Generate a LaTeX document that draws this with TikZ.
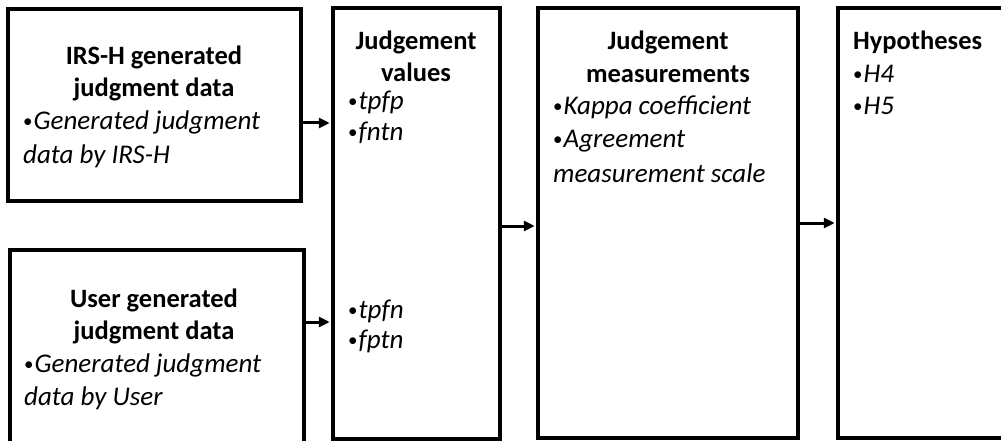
\documentclass[tikz,border=0pt]{standalone}
\usepackage{fontspec}
\setmainfont{Carlito}
\usetikzlibrary{arrows.meta}
% small upright bullet used in the item lists
\newcommand{\itembul}{{\upshape\fontsize{19}{19}\selectfont\raisebox{2pt}{•}}\kern1pt}
\begin{document}
\begin{tikzpicture}[x=1pt,y=-1pt,
  box/.style={draw=black, line width=3.5pt, fill=white, inner sep=0pt},
  ttl/.style={anchor=base, inner sep=0pt, font=\fontsize{26.5}{32}\selectfont\bfseries},
  ttlw/.style={anchor=base west, inner sep=0pt, font=\fontsize{26.5}{32}\selectfont\bfseries},
  itm/.style={anchor=base west, inner sep=0pt, font=\fontsize{27}{32}\selectfont\itshape},
  flow/.style={line width=3pt, shorten >=1.5pt, -{Triangle[length=11pt,width=10pt]}}]
\useasboundingbox (0,0) rectangle (1001,441);
\clip (0,0) rectangle (1001,441);

% boxes
\node[box, minimum width=293pt, minimum height=192pt] (irs)  at (154.5,105) {};
\node[box, minimum width=294pt, minimum height=220pt] (user) at (157,360) {};
\node[box, minimum width=167pt, minimum height=431pt] (vals) at (416.5,223.5) {};
\node[box, minimum width=260pt, minimum height=430pt] (meas) at (668,223) {};
\node[box, minimum width=182pt, minimum height=430pt] (hyp)  at (929,223) {};

% IRS-H box text
\node[ttl] (irsA) at (154,65) {IRS-H generated};
\node[ttl] (irsB) at (154,97) {judgment data};
\node[itm] (irsC) at (23,130) {\itembul Generated judgment};
\node[itm] (irsD) at (23,163) {data by IRS-H};

% user box text
\node[ttl] (userA) at (154,307) {User generated};
\node[ttl] (userB) at (154,339) {judgment data};
\node[itm] (userC) at (24,372) {\itembul Generated judgment};
\node[itm] (userD) at (24,405) {data by User};

% judgement values text
\node[ttl] (valsA) at (416,50) {Judgement};
\node[ttl] (valsB) at (416,82) {values};
\node[itm] (valsC) at (348,110) {\itembul tpfp};
\node[itm] (valsD) at (348,141) {\itembul fntn};
\node[itm] (valsE) at (348,318) {\itembul tpfn};
\node[itm] (valsF) at (348,348) {\itembul fptn};

% judgement measurements text
\node[ttl] (measA) at (668,50) {Judgement};
\node[ttl] (measB) at (668,83) {measurements};
\node[itm] (measC) at (553,115) {\itembul Kappa coefficient};
\node[itm] (measD) at (553,148) {\itembul Agreement};
\node[itm] (measE) at (553,182) {measurement scale};

% hypotheses text
\node[ttlw] (hypA) at (853,50) {Hypotheses};
\node[itm] (hypB) at (853,83) {\itembul H4};
\node[itm] (hypC) at (853,115) {\itembul H5};

% connectors
\draw[flow] ([yshift=-18pt]irs.east) -- ([yshift=-18pt]irs.east -| vals.west);
\draw[flow] ([yshift=38pt]user.east) -- ([yshift=38pt]user.east -| vals.west);
\draw[flow] ([yshift=-2.5pt]vals.east) -- ([yshift=-2.5pt]vals.east -| meas.west);
\draw[flow] (meas.east) -- (meas.east -| hyp.west);
\end{tikzpicture}
\end{document}
